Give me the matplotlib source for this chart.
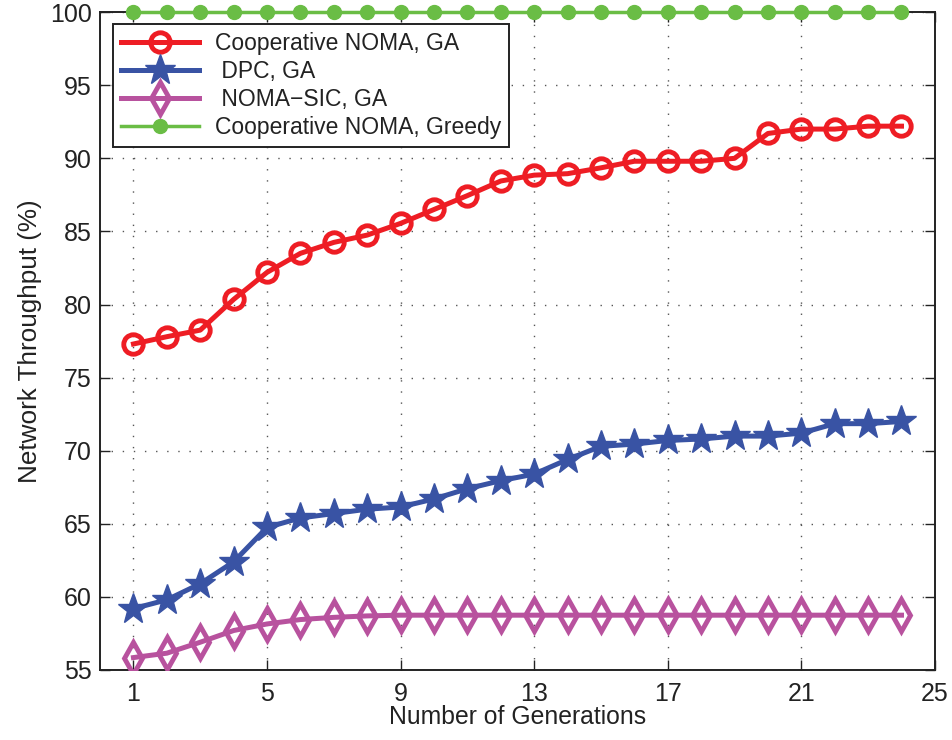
import numpy as np
import matplotlib.pyplot as plt

plt.rcParams['font.family'] = ['Liberation Sans', 'DejaVu Sans']

generations = np.arange(1, 25)

coop_noma_ga = [77.3, 77.8, 78.25, 80.35, 82.2, 83.5, 84.25, 84.75, 85.55, 86.5, 87.45, 88.45,
                88.85, 88.95, 89.35, 89.8, 89.8, 89.8, 90.0, 91.7, 92.0, 92.0, 92.2, 92.2]
dpc_ga = [59.2, 59.8, 60.9, 62.4, 64.75, 65.4, 65.7, 66.0, 66.15, 66.7, 67.4, 67.95,
          68.4, 69.4, 70.3, 70.45, 70.7, 70.8, 71.0, 71.0, 71.2, 71.85, 71.85, 72.0]
noma_sic_ga = [55.85, 56.15, 56.9, 57.7, 58.15, 58.45, 58.6, 58.7, 58.75, 58.75, 58.75, 58.75,
               58.75, 58.75, 58.75, 58.75, 58.75, 58.75, 58.75, 58.75, 58.75, 58.75, 58.75, 58.75]
coop_noma_greedy = [100.0] * 24

labels = ['Cooperative NOMA, GA', ' DPC, GA', ' NOMA\u2212SIC, GA', 'Cooperative NOMA, Greedy']

fig = plt.figure(figsize=(9.53, 7.4), dpi=100)
ax = fig.add_axes([0.105, 0.0946, 0.876, 0.889])

ax.plot(generations, coop_noma_ga, '-o', color='#EE1D24', lw=3.6, ms=14,
        mfc='none', mew=3.5, label=labels[0], zorder=4)
ax.plot(generations, dpc_ga, '-*', color='#3953A4', lw=3.6, ms=23,
        label=labels[1], zorder=4)
ax.plot(generations, noma_sic_ga, '-d', color='#B8529E', lw=3.6, ms=16,
        mfc='none', mew=3.5, label=labels[2], zorder=4)
ax.plot(generations, coop_noma_greedy, '-o', color='#6ABD45', lw=2.5, ms=10,
        label=labels[3], zorder=5, clip_on=False)

ax.set_xlim(0, 25)
ax.set_ylim(55, 100)
ax.set_xticks([1, 5, 9, 13, 17, 21, 25])
ax.set_yticks(np.arange(55, 101, 5))
ax.tick_params(direction='in', top=True, right=True, labelsize=18, length=7, width=1,
               colors='#222222')
ax.tick_params(axis='x', pad=9)
ax.tick_params(axis='y', pad=6)
ax.grid(True, linestyle=(0, (1, 7)), color='#555555', lw=1.0)
for s in ax.spines.values():
    s.set_linewidth(1.4)
    s.set_color('#222222')

ax.set_xlabel('Number of Generations', fontsize=17.8, labelpad=-1, color='#222222')
ax.set_ylabel('Network Throughput (%)', fontsize=18.8, labelpad=6, color='#222222')

leg = ax.legend(loc='upper left', bbox_to_anchor=(0.0156, 0.982), borderaxespad=0,
                fontsize=16.5, fancybox=False, edgecolor='#222222', framealpha=1,
                handlelength=3.4, labelspacing=0.22, borderpad=0.35, handletextpad=0.7)
leg.get_frame().set_linewidth(1.4)
for t in leg.get_texts():
    t.set_color('#222222')

plt.savefig('out.png', dpi=100)
